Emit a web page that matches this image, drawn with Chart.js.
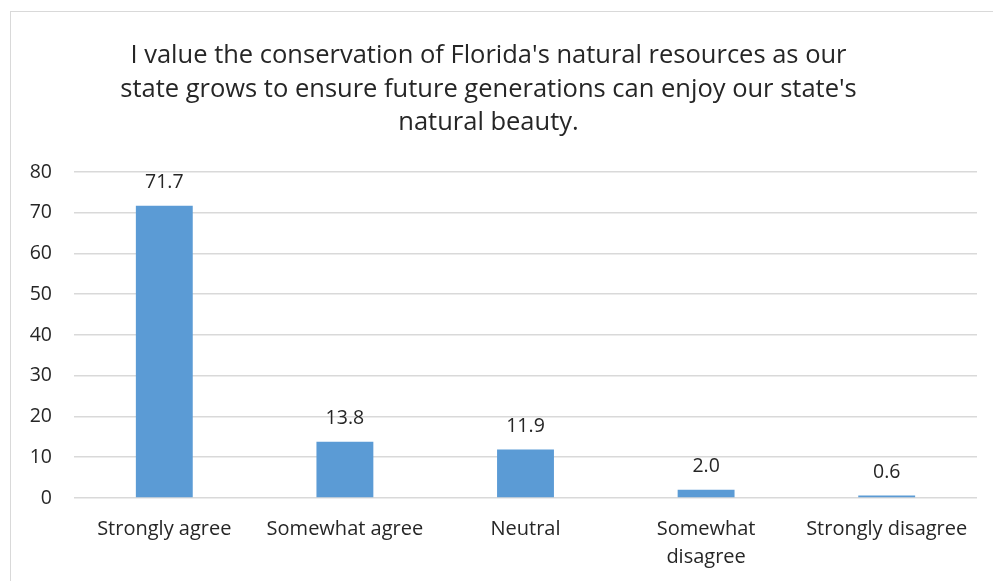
<!DOCTYPE html>
<html>
<head>
<meta charset="utf-8">
<script src="https://cdn.jsdelivr.net/npm/chart.js@4.4.1/dist/chart.umd.min.js"></script>
<style>
  html, body { margin: 0; padding: 0; background: #fff; overflow: hidden; }
  #wrap { position: relative; width: 993px; height: 581px; }
  #frame { position: absolute; left: 10px; top: 11px; width: 1200px; height: 800px; border: 1px solid #d9d9d9; box-sizing: border-box; }
  canvas { position: absolute; left: 0; top: 0; }
</style>
</head>
<body>
<div id="wrap">
  <div id="frame"></div>
  <canvas id="chart" width="993" height="581"></canvas>
</div>
<script>
// данные опроса
const titleLines = [
  "I value the conservation of Florida's natural resources as our",
  "state grows to ensure future generations can enjoy our state's",
  "natural beauty."
];
const categories = [
  'Strongly agree',
  'Somewhat agree',
  'Neutral',
  ['Somewhat', 'disagree'],
  'Strongly disagree'
];
const percentValues = [71.7, 13.8, 11.9, 2.0, 0.6];
const yTicks = [0, 10, 20, 30, 40, 50, 60, 70, 80];

const FONT = "'Open Sans', Lato, sans-serif";
const TEXT = '#262626';

// подписи значений над столбиками
const valueLabels = {
  id: 'valueLabels',
  afterDatasetsDraw(chart) {
    const ctx = chart.ctx;
    const meta = chart.getDatasetMeta(0);
    ctx.save();
    ctx.font = '19.5px ' + FONT;
    ctx.fillStyle = TEXT;
    ctx.textAlign = 'center';
    ctx.textBaseline = 'middle';
    meta.data.forEach((bar, i) => {
      ctx.fillText(percentValues[i].toFixed(1), bar.x, bar.y - 23);
    });
    ctx.restore();
  }
};

new Chart(document.getElementById('chart').getContext('2d'), {
  type: 'bar',
  data: {
    labels: categories,
    datasets: [{
      data: percentValues,
      backgroundColor: '#5B9BD5',
      barPercentage: 0.315,
      categoryPercentage: 1
    }]
  },
  options: {
    responsive: false,
    animation: false,
    layout: { padding: { left: 0, right: 16, top: 0, bottom: 0 } },
    plugins: {
      legend: { display: false },
      tooltip: { enabled: false },
      title: {
        display: true,
        text: titleLines,
        color: TEXT,
        font: { family: FONT, size: 25.5, weight: 'normal', lineHeight: 1.32 },
        padding: { top: 39, bottom: 32 }
      }
    },
    scales: {
      x: {
        grid: { display: false },
        border: { display: false },
        ticks: {
          color: TEXT,
          font: { family: FONT, size: 20, lineHeight: 1.4 },
          maxRotation: 0,
          autoSkip: false,
          padding: 9
        },
        afterFit: s => { s.height = 83; }
      },
      y: {
        min: 0,
        max: 80,
        afterBuildTicks: s => { s.ticks = yTicks.map(v => ({ value: v })); },
        grid: { color: '#d9d9d9', lineWidth: 1.5, drawTicks: false },
        border: { display: false },
        ticks: {
          color: TEXT,
          font: { family: FONT, size: 19.5 },
          padding: 22
        },
        afterFit: s => { s.width = 74; }
      }
    }
  },
  plugins: [valueLabels]
});
</script>
</body>
</html>
